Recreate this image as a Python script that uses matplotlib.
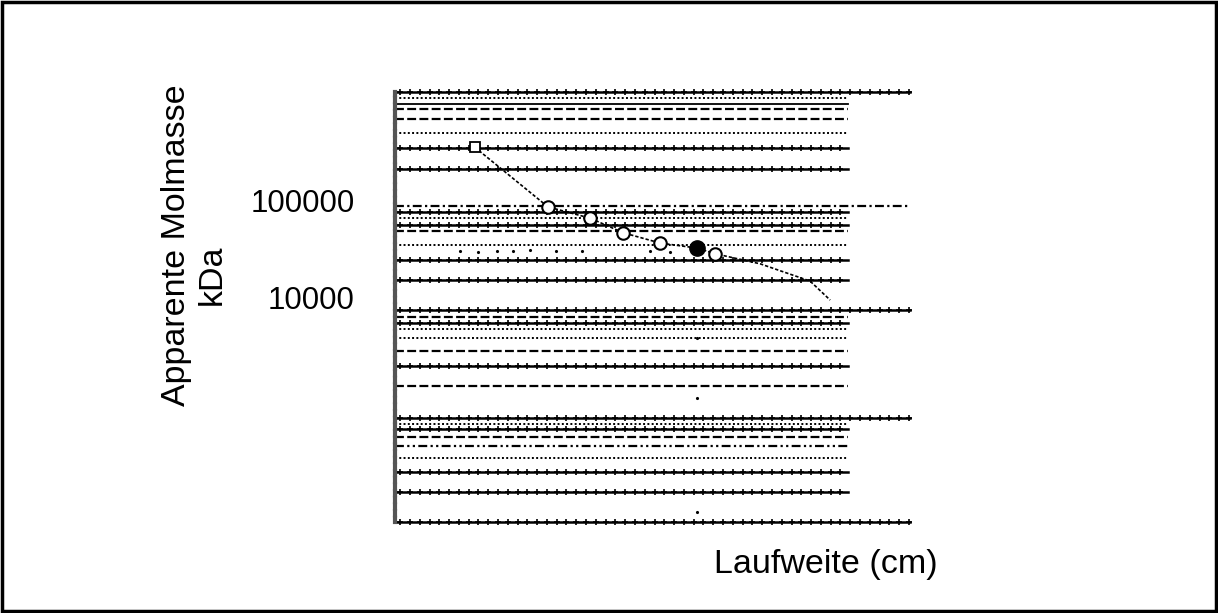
import numpy as np
import matplotlib
matplotlib.use("Agg")
import matplotlib.pyplot as plt
from matplotlib.patches import Rectangle

plt.rcParams['font.family'] = ['Liberation Sans', 'DejaVu Sans']

# ---- data ----
curve_x = [1.55, 2.97, 3.79, 4.43, 5.15, 5.86, 6.21, 7.09, 8.06, 8.45]
curve_mw = [3.5e5, 8.5e4, 6.5e4, 4.6e4, 3.6e4, 3.2e4, 2.8e4, 2.2e4, 1.46e4, 9.3e3]
start_x = [1.55]
start_mw = [3.5e5]
marker_x = [2.97, 3.79, 4.43, 5.15, 6.21]
marker_mw = [8.5e4, 6.5e4, 4.6e4, 3.6e4, 2.8e4]
sample_x = [5.86]
sample_mw = [3.2e4]
stray_x = [1.26, 1.61, 1.98, 2.29, 2.62, 3.13, 3.63, 4.95, 5.34, 5.86, 5.86, 5.86]
stray_mw = [2.98e4, 2.9e4, 3.0e4, 2.95e4, 3.05e4, 2.98e4, 3.0e4, 2.95e4, 2.9e4, 3.78e3, 9.1e2, 61]

grid_mw = [1.30e6, 1.13e6, 9.8e5, 8.67e5, 6.84e5, 4.91e5, 3.44e5, 2.09e5,
           8.67e4, 7.52e4, 6.52e4, 5.52e4, 4.79e4, 3.44e4, 2.41e4, 1.50e4,
           7.34e3, 6.22e3, 5.40e3, 4.68e3, 3.78e3, 2.78e3, 1.94e3, 1.21e3,
           566, 491, 436, 360, 291, 219, 157, 97.7, 47.9]
grid_style = ['tick', 'dot', 'solid', 'dash', 'dash', 'dot', 'tick', 'tick',
              'dashdot', 'tick', 'dot', 'tick', 'dash', 'dot', 'tick', 'tick',
              'tick', 'dash', 'tick', 'dot', 'dot', 'dash', 'tick', 'dash',
              'tick', 'dot', 'tick', 'dash', 'dashdotdot', 'dot', 'tick', 'tick', 'tick']
grid_end = [10, 8.8, 8.8, 8.8, 8.8, 8.8, 8.8, 8.8,
            10, 8.8, 8.8, 8.8, 8.8, 8.8, 8.8, 8.8,
            10, 8.8, 8.8, 8.8, 8.8, 8.8, 8.8, 8.8,
            10, 8.8, 8.8, 8.8, 8.8, 8.8, 8.8, 8.8, 10]

ytick_vals = [1e4, 1e5]
ytick_labels = ['10000', '100000']

# ---- figure ----
W, H = 1218, 613
fig = plt.figure(figsize=(W / 100, H / 100), dpi=100)
fig.patches.append(Rectangle((2 / W, 2 / H), 1 - 4 / W, 1 - 4 / H, transform=fig.transFigure,
                             fill=False, edgecolor='black', linewidth=2.5))

ax = fig.add_axes([395 / W, 1 - 522 / H, (910 - 395) / W, (522 - 92) / H])
ax.set_yscale('log')
ax.set_xlim(0, 10)
ax.set_ylim(47.9, 1.30e6)

styles = {
    'dot': dict(linestyle=(0, (1, 1.2)), linewidth=1.4),
    'dash': dict(linestyle=(0, (4, 1.5)), linewidth=1.6),
    'dashdot': dict(linestyle=(0, (4, 1.5, 1, 1.5)), linewidth=1.6),
    'dashdotdot': dict(linestyle=(0, (4, 1.5, 1, 1.5, 1, 1.5)), linewidth=1.6),
    'solid': dict(linestyle='-', linewidth=1.3),
    'tick': dict(linestyle='-', linewidth=1.8),
}
for v, s, e in zip(grid_mw, grid_style, grid_end):
    ax.plot([0, e], [v, v], color='black', clip_on=False, zorder=2, **styles[s])
    if s == 'tick':
        xs = np.arange(0.1, e, 0.19)
        ax.plot(xs, [v] * len(xs), linestyle='none', marker='+', markersize=4,
                markeredgewidth=1.2, color='black', clip_on=False, zorder=2)

ax.plot(curve_x, curve_mw, color='black', linestyle=(0, (2, 1.2)), linewidth=1.2, zorder=3)
ax.plot(start_x, start_mw, linestyle='none', marker='s', markersize=7, markerfacecolor='white',
        markeredgecolor='black', markeredgewidth=1.3, zorder=4)
ax.plot(marker_x, marker_mw, linestyle='none', marker='o', markersize=9, markerfacecolor='white',
        markeredgecolor='black', markeredgewidth=1.5, zorder=4)
ax.plot(sample_x, sample_mw, linestyle='none', marker='o', markersize=11, color='black', zorder=4)
ax.plot(stray_x, stray_mw, linestyle='none', marker='.', markersize=2.5, color='black', zorder=3)

for sp in ['top', 'right', 'bottom']:
    ax.spines[sp].set_visible(False)
ax.spines['left'].set_linewidth(3)
ax.spines['left'].set_linestyle((0, (1, 0.6)))
ax.spines['left'].set_color('#555555')

ax.set_xticks([])
ax.set_yticks(ytick_vals)
ax.set_yticklabels(ytick_labels, fontsize=22.5)
ax.yaxis.set_minor_locator(matplotlib.ticker.NullLocator())
ax.tick_params(axis='y', length=0, pad=29)

fig.text(176 / W, 1 - 245 / H, 'Apparente Molmasse', rotation=90, fontsize=24.5,
         ha='center', va='center')
fig.text(212 / W, 1 - 275 / H, 'kDa', rotation=90, fontsize=24.5, ha='center', va='center')
fig.text(826 / W, 1 - 565 / H, 'Laufweite (cm)', fontsize=24.5, ha='center', va='center')

fig.savefig('out.png', dpi=100)
